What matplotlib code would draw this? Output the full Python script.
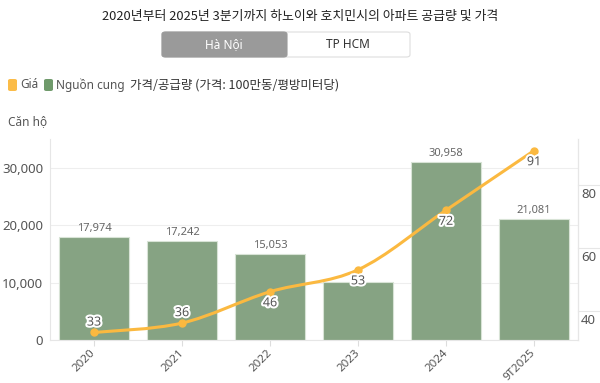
import matplotlib
matplotlib.use("Agg")
import matplotlib.pyplot as plt
import matplotlib.patheffects as pe
import matplotlib.transforms as mtransforms
from matplotlib.patches import FancyBboxPatch, PathPatch
from matplotlib.path import Path

# data
years = ["2020", "2021", "2022", "2023", "2024", "9T2025"]
supply = [17974, 17242, 15053, 10150, 30958, 21081]
supply_labels = ["17,974", "17,242", "15,053", "", "30,958", "21,081"]
price = [33, 36, 46, 53, 72, 91]
price_label_above = [True, True, False, False, False, False]
price_ticks = [40, 60, 80]

title = "2020년부터 2025년 3분기까지 하노이와 호치민시의 아파트 공급량 및 가격"
subtitle = "가격/공급량 (가격: 100만동/평방미터당)"

KR = ["Noto Sans CJK KR", "Noto Sans", "DejaVu Sans"]
LAT = ["Noto Sans", "Noto Sans CJK KR", "DejaVu Sans"]
BAR_C = "#86a383"
LINE_C = "#fbb940"
TXT = "#555555"

W, H = 600, 383
fig = plt.figure(figsize=(6, 3.83), dpi=100)


def fx(x):
    return x / W


def fy(y):
    return 1 - y / H


# header
fig.text(0.5, fy(16), title, ha="center", va="center", fontsize=9.3,
         family=KR, color="#222222")

# city toggle
fig.patches.append(FancyBboxPatch((fx(162), fy(57)), fx(248), 25 / H,
                                  boxstyle="round,pad=0,rounding_size=0.006",
                                  transform=fig.transFigure, fc="white",
                                  ec="#dddddd", lw=0.8))
fig.patches.append(FancyBboxPatch((fx(162), fy(57)), fx(125), 25 / H,
                                  boxstyle="round,pad=0,rounding_size=0.006",
                                  transform=fig.transFigure, fc="#9a9a9a",
                                  ec="#9a9a9a", lw=0.8))
fig.text(fx(224), fy(45), "Hà Nội", ha="center", va="center", fontsize=8.5,
         family=LAT, color="white")
fig.text(fx(348), fy(45), "TP HCM", ha="center", va="center", fontsize=8.5,
         family=LAT, color="#333333")

# legend row
for x0, c in [(8, "#fbbc48"), (44, "#6f9a6b")]:
    fig.patches.append(FancyBboxPatch((fx(x0), fy(91)), fx(9), 12 / H,
                                      boxstyle="round,pad=0,rounding_size=0.004",
                                      transform=fig.transFigure, fc=c, ec="none"))
fig.text(fx(20), fy(85), "Giá", va="center", fontsize=8.5, family=LAT, color=TXT)
fig.text(fx(56), fy(85), "Nguồn cung", va="center", fontsize=8.5, family=LAT,
         color=TXT)
fig.text(fx(130), fy(85), subtitle, va="center", fontsize=9, family=KR,
         color="#333333")
fig.text(fx(8), fy(122), "Căn hộ", va="center", fontsize=8.5, family=LAT,
         color=TXT)

# main axes
ax = fig.add_axes([fx(50), fy(340), fx(528), 201 / H])
xs = list(range(len(years)))
ax.bar(xs, supply, width=0.8, color=BAR_C, edgecolor="#d8e3d6", linewidth=0.8,
       zorder=2)
for x, v, lab in zip(xs, supply, supply_labels):
    if lab:
        ax.text(x, v + 500, lab, ha="center", va="bottom", fontsize=8,
                family=LAT, color="#666666", zorder=3)
ax.set_xlim(-0.5, 5.5)
ax.set_ylim(0, 35000)
ax.set_yticks([0, 10000, 20000, 30000])
ax.set_yticklabels(["0", "10,000", "20,000", "30,000"])
ax.grid(axis="y", color="#eeeeee", linewidth=0.8, zorder=0)
ax.set_axisbelow(True)
ax.set_xticks(xs)
ax.set_xticklabels(years, rotation=45, ha="right", va="center",
                   rotation_mode="anchor")
ax.tick_params(axis="x", length=4, color="#dddddd", pad=4, labelsize=8.3,
               labelcolor=TXT)
ax.tick_params(axis="y", length=0, pad=5, labelsize=9.5, labelcolor=TXT)
for lbl in ax.get_xticklabels() + ax.get_yticklabels():
    lbl.set_family(LAT)
ax.spines["top"].set_visible(False)
for s in ["left", "right", "bottom"]:
    ax.spines[s].set_color("#e6e6e6")

# price line on the right axis, drawn as a smooth spline through the points
ax2 = ax.twinx()
ax2.set_ylim(30.6, 94.7)
ax2.set_yticks(price_ticks)
ax2.tick_params(axis="y", length=0, labelright=False)
for s in ["top", "left", "bottom"]:
    ax2.spines[s].set_visible(False)
ax2.spines["right"].set_color("#e6e6e6")

# right-axis ticks: short grid stubs outside the spine, label just below
tr = ax2.get_yaxis_transform()
for t in price_ticks:
    ax2.plot([1.0, 1.0 + 22 / 528], [t, t], color="#e6e6e6", lw=0.8,
             transform=tr, clip_on=False)
    lab_tr = tr + mtransforms.ScaledTranslation(3 / 100, -3 / 100,
                                                fig.dpi_scale_trans)
    ax2.text(1.0, t, str(t), ha="left", va="top", fontsize=9.5, family=LAT,
             color=TXT, transform=lab_tr, clip_on=False)

pts = list(zip(xs, price))
verts = [pts[0]]
codes = [Path.MOVETO]
n = len(pts)
for i in range(n - 1):
    p0 = pts[max(i - 1, 0)]
    p1 = pts[i]
    p2 = pts[i + 1]
    p3 = pts[min(i + 2, n - 1)]
    c1 = (p1[0] + (p2[0] - p0[0]) / 6, p1[1] + (p2[1] - p0[1]) / 6)
    c2 = (p2[0] - (p3[0] - p1[0]) / 6, p2[1] - (p3[1] - p1[1]) / 6)
    verts += [c1, c2, p2]
    codes += [Path.CURVE4] * 3
ax2.add_patch(PathPatch(Path(verts, codes), fc="none", ec=LINE_C, lw=2.2,
                        zorder=4))
ax2.plot(xs, price, "o", color=LINE_C, ms=5, zorder=5)
for x, v, above in zip(xs, price, price_label_above):
    ax2.annotate(str(v), (x, v), xytext=(0, 7.5 if above else -8),
                 textcoords="offset points", ha="center", va="center",
                 fontsize=9, family=LAT, color="#555555", zorder=6,
                 path_effects=[pe.withStroke(linewidth=3, foreground="white")])

fig.savefig("out.png", dpi=100)
